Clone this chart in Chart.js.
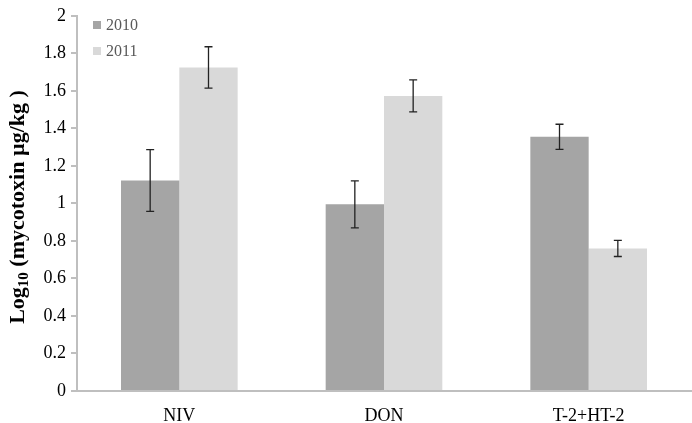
<!DOCTYPE html>
<html>
<head>
<meta charset="utf-8">
<script src="https://cdn.jsdelivr.net/npm/chart.js@4/dist/chart.umd.min.js"></script>
<style>
  html, body { margin: 0; padding: 0; background: #fff; }
  #wrap { width: 692px; height: 423px; }
</style>
</head>
<body>
<div id="wrap"><canvas id="c"></canvas></div>
<script>
const categories = ['NIV', 'DON', 'T-2+HT-2'];
const years = ['2010', '2011'];
const values2010 = [1.122, 0.995, 1.355];
const values2011 = [1.725, 1.573, 0.760];
const errors2010 = [0.165, 0.125, 0.067];
const errors2011 = [0.11, 0.085, 0.043];
const yTicks = [0, 0.2, 0.4, 0.6, 0.8, 1, 1.2, 1.4, 1.6, 1.8, 2];

const font = 'Liberation Serif';

// draws error bars on top of each bar
const errorBars = {
  id: 'errorBars',
  afterDatasetsDraw(chart) {
    const c = chart.ctx;
    const y = chart.scales.y;
    chart.data.datasets.forEach((ds, i) => {
      const meta = chart.getDatasetMeta(i);
      meta.data.forEach((bar, j) => {
        const v = ds.data[j], e = ds.errors[j];
        const top = y.getPixelForValue(v + e);
        const bot = y.getPixelForValue(v - e);
        c.save();
        c.strokeStyle = '#222';
        c.lineWidth = 1.3;
        c.beginPath();
        c.moveTo(bar.x, top); c.lineTo(bar.x, bot);
        c.moveTo(bar.x - 4, top); c.lineTo(bar.x + 4, top);
        c.moveTo(bar.x - 4, bot); c.lineTo(bar.x + 4, bot);
        c.stroke();
        c.restore();
      });
    });
  }
};

// legend inside the plot + y title with subscript
const extras = {
  id: 'extras',
  afterDraw(chart) {
    const c = chart.ctx;
    c.save();
    chart.data.datasets.forEach((ds, i) => {
      const yy = 25 + i * 26;
      c.fillStyle = ds.backgroundColor;
      c.fillRect(93, yy - 4, 8, 8);
      c.fillStyle = '#595959';
      c.font = '16px ' + font;
      c.textBaseline = 'middle';
      c.fillText(ds.label, 106, yy + 1);
    });
    c.translate(18, 207);
    c.rotate(-Math.PI / 2);
    c.fillStyle = '#000';
    c.textBaseline = 'middle';
    const p1 = 'Log', p2 = '10', p3 = ' (mycotoxin µg/kg )';
    c.font = 'bold 22px ' + font;
    const w1 = c.measureText(p1).width, w3 = c.measureText(p3).width;
    c.font = 'bold 15px ' + font;
    const w2 = c.measureText(p2).width;
    let x = -(w1 + w2 + w3) / 2;
    c.font = 'bold 22px ' + font;
    c.fillText(p1, x, 0); x += w1;
    c.font = 'bold 15px ' + font;
    c.fillText(p2, x, 6); x += w2;
    c.font = 'bold 22px ' + font;
    c.fillText(p3, x, 0);
    c.restore();
  }
};

new Chart(document.getElementById('c'), {
  type: 'bar',
  data: {
    labels: categories,
    datasets: [
      { label: years[0], data: values2010, errors: errors2010, backgroundColor: '#a5a5a5' },
      { label: years[1], data: values2011, errors: errors2011, backgroundColor: '#d9d9d9' }
    ]
  },
  options: {
    responsive: true,
    maintainAspectRatio: false,
    animation: false,
    categoryPercentage: 0.57,
    barPercentage: 1,
    layout: { padding: { top: 15, right: 1, left: 0, bottom: 0 } },
    plugins: { legend: { display: false }, tooltip: { enabled: false } },
    scales: {
      x: {
        grid: { display: false },
        border: { color: '#bfbfbf', width: 2 },
        ticks: { color: '#000', font: { family: font, size: 18 }, padding: 6 },
        afterFit(s) { s.height = 32; }
      },
      y: {
        min: 0, max: 2,
        afterBuildTicks(s) { s.ticks = yTicks.map(v => ({ value: v })); },
        grid: { drawOnChartArea: false, drawTicks: true, tickLength: 6, color: '#bfbfbf', lineWidth: 2 },
        border: { color: '#bfbfbf', width: 2 },
        ticks: {
          color: '#000', font: { family: font, size: 18 }, padding: 5,
          callback: v => String(Math.round(v * 10) / 10)
        },
        afterFit(s) { s.width = 77; }
      }
    }
  },
  plugins: [errorBars, extras]
});
</script>
</body>
</html>
